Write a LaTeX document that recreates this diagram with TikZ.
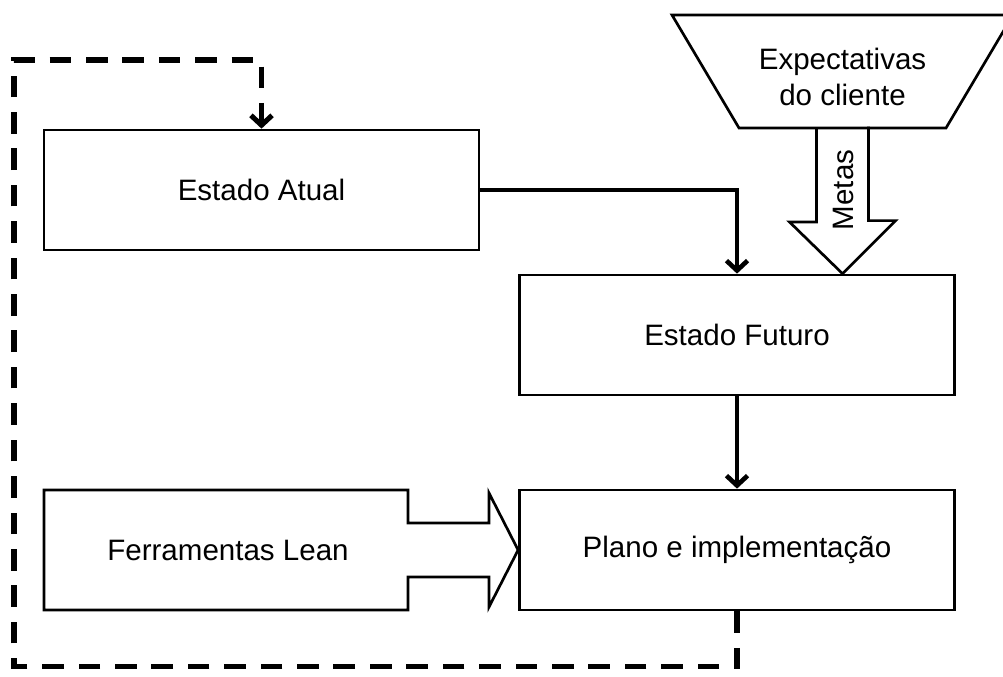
\documentclass[tikz,border=0pt]{standalone}
\usepackage{fontspec}
\setmainfont{Liberation Sans}
\usetikzlibrary{arrows.meta}
\begin{document}
\begin{tikzpicture}[x=0.025cm,y=-0.025cm,font=\fontsize{21}{25}\selectfont,line join=miter,>={Straight Barb[length=7pt,width=15pt]},
	box/.style={draw,line width=1.9pt,minimum width=10.875cm,minimum height=3cm},
	block/.style={line width=1.9pt},
	conn/.style={->,line width=3.3pt},
	feedback/.style={->,line width=3.6pt,dash pattern=on 0.54cm off 0.37cm}]
	\clip (0,0) rectangle (1003,676);
	\node[box] (atual) at (261.5,190) {Estado Atual};
	\node[box] (futuro) at (737,335) {Estado Futuro};
	\node[box] (plano) at (737,550) {Plano e implementação};
	\draw[block] (672,15)--(1013,15)--(946,128)--(739,128)--cycle;
	\node[align=center] (expect) at (842.5,77) {Expectativas\\do cliente};
	\coordinate (expb) at (842.5,128);
	\draw[block] (expb) ++(-26,0) |- ++(-27,94) -- (futuro.north -| expb) -- ++(53,-53) -- ++(-27,0) -- ++(0,-94);
	\node[rotate=90] (metas) at (843,190) {Metas};
	\draw[block] (44,490) -| (408,523) -| (489,493) -- (plano.west) -- (489,607) |- (408,577) |- (44,610) -- cycle;
	\node (lean) at (228,550) {Ferramentas Lean};
	\draw[conn] (atual.east) -| (futuro.north);
	\draw[conn] (futuro) -- (plano);
	\coordinate (ret) at (14,60);
	\draw[feedback] (plano.south) -- ++(0,55) -| (ret) -| (atual.north);
\end{tikzpicture}
\end{document}
